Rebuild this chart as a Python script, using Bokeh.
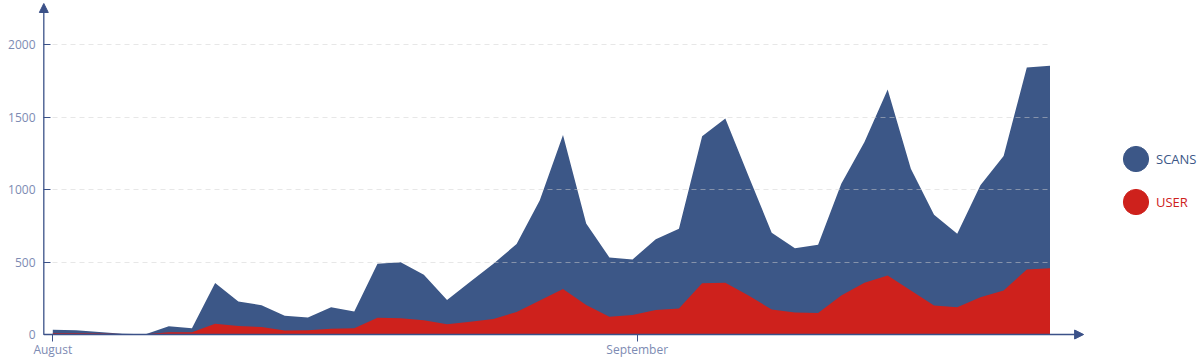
from bokeh.plotting import figure
from bokeh.models import (Range1d, FixedTicker, Legend, LegendItem, Arrow, NormalHead)
from bokeh.embed import file_html
from bokeh.resources import INLINE

# ---- data ----
scans = [33, 29, 18, 6, 1, 57, 43, 356, 228, 202, 129, 118, 189, 158, 488, 499,
         412, 238, 364, 488, 625, 926, 1378, 767, 532, 518, 658, 730, 1368, 1491,
         1095, 703, 596, 620, 1041, 1329, 1691, 1145, 827, 696, 1030, 1232, 1844, 1856]
user = [8, 9, 7, 4, 1, 16, 16, 74, 58, 51, 28, 30, 39, 44, 116, 112,
        99, 70, 88, 107, 156, 235, 314, 203, 122, 135, 169, 180, 353, 358,
        270, 172, 152, 148, 270, 357, 408, 304, 200, 189, 258, 304, 449, 458]
days = list(range(len(scans)))
tick_pos = [0, 25.2]
tick_labels = ["August", "September"]
y_ticks = [0, 500, 1000, 1500, 2000]
series_names = ["SCANS", "USER"]

BLUE = "#3c5787"
RED = "#ce211c"
AXIS = "#3b5188"
LABEL = "#7d8bb3"
FONT = "Open Sans"

# frame spans 38..1200 x 0..340 (px); axis lines are drawn as arrows inside it
X0, X1 = -0.617, 49.49
Y0, Y1 = -41.4, 2305.8
AX_X = -0.388        # x position of the vertical axis line
AX_XEND = 44.45      # tip of horizontal axis arrow
AX_YEND = 2285       # tip of vertical axis arrow

p = figure(width=1200, height=360, output_backend="svg", toolbar_location=None,
           x_range=Range1d(X0, X1), y_range=Range1d(Y0, Y1),
           min_border_left=38, min_border_right=0, min_border_top=0,
           min_border_bottom=20)
p.outline_line_color = None
p.background_fill_color = "white"
p.border_fill_color = "white"

r_scans = p.varea(x=days, y1=0, y2=scans, fill_color=BLUE)
r_user = p.varea(x=days, y1=0, y2=user, fill_color=RED)

# legend handles (hidden; legend shows them as dots)
l_scans = p.scatter(x=days, y=scans, size=25, fill_color=BLUE, line_color=BLUE, visible=False)
l_user = p.scatter(x=days, y=user, size=25, fill_color=RED, line_color=RED, visible=False)
# invisible handle used for the text-only legend rows
l_none = p.scatter(x=days, y=scans, size=0, fill_alpha=0, line_alpha=0, visible=False)

# grid
p.xgrid.visible = False
p.ygrid.ticker = FixedTicker(ticks=y_ticks[1:])
p.ygrid.grid_line_color = "#d0d0d0"
p.ygrid.grid_line_alpha = 0.5
p.ygrid.grid_line_dash = "5 4"
p.ygrid.level = "overlay"
p.ygrid.cross_bounds = (0, days[-1])

# axes (lines hidden; drawn as arrows below)
xa = p.xaxis[0]
xa.ticker = FixedTicker(ticks=tick_pos)
xa.major_label_overrides = {tick_pos[i]: tick_labels[i] for i in range(len(tick_pos))}
xa.axis_line_color = None
xa.major_tick_line_color = AXIS
xa.major_tick_in = 6
xa.major_tick_out = 1
xa.minor_tick_out = 0
xa.minor_tick_in = 0
xa.minor_tick_line_color = None
xa.major_label_text_color = LABEL
xa.major_label_text_font = FONT
xa.major_label_text_font_size = "12px"
xa.major_label_standoff = -1

ya = p.yaxis[0]
ya.ticker = FixedTicker(ticks=y_ticks)
ya.axis_line_color = None
ya.major_tick_line_color = AXIS
ya.major_tick_in = 12
ya.major_tick_out = -5
ya.minor_tick_out = 0
ya.minor_tick_in = 0
ya.minor_tick_line_color = None
ya.major_label_text_color = LABEL
ya.major_label_text_font = FONT
ya.major_label_text_font_size = "12px"
ya.major_label_standoff = 3

p.add_layout(Arrow(end=NormalHead(size=9, fill_color=AXIS, line_color=AXIS, line_width=1),
                   x_start=AX_X, y_start=0, x_end=AX_XEND, y_end=0,
                   line_color=AXIS, line_width=1.3))
p.add_layout(Arrow(end=NormalHead(size=9, fill_color=AXIS, line_color=AXIS, line_width=1),
                   x_start=AX_X, y_start=0, x_end=AX_X, y_end=AX_YEND,
                   line_color=AXIS, line_width=1.3))

COMMON = dict(orientation="vertical", padding=0, margin=0, border_line_alpha=0,
              background_fill_alpha=0, inactive_fill_alpha=0,
              label_text_font=FONT, label_text_font_size="13px")

def dot_legend(rend, loc):
    return Legend(items=[LegendItem(label=" ", renderers=[rend])], location=loc,
                  glyph_width=63, glyph_height=63, label_standoff=0,
                  label_text_alpha=0, **COMMON)

def text_legend(name, color, loc):
    return Legend(items=[LegendItem(label=name, renderers=[l_none])], location=loc,
                  glyph_width=0, glyph_height=18, label_height=18, label_standoff=0,
                  label_text_color=color, **COMMON)

p.add_layout(dot_legend(l_scans, (1066, 150)), "center")
p.add_layout(dot_legend(l_user, (1066, 107)), "center")
p.add_layout(text_legend(series_names[0], BLUE, (1118, 172)), "center")
p.add_layout(text_legend(series_names[1], RED, (1118, 129)), "center")

open("out.html", "w").write(file_html(p, INLINE))
